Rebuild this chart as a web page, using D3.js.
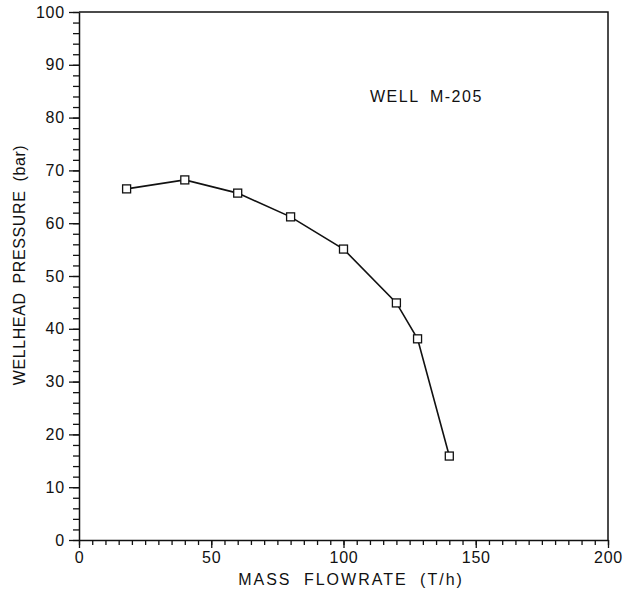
<!DOCTYPE html>
<html>
<head>
<meta charset="utf-8">
<script src="https://cdn.jsdelivr.net/npm/d3@7"></script>
<style>
  body { margin: 0; background: #fff; }
  text { font-family: "Liberation Sans", Arial, sans-serif; fill: #111; }
</style>
</head>
<body>
<div id="visContainer"></div>
<script>
'use strict';

// data
var flowrate = [18, 40, 60, 80, 100, 120, 128, 140];   // T/h
var pressure = [66.5, 68.2, 65.7, 61.2, 55.1, 44.9, 38.1, 15.9]; // bar
var xTicks = [0, 50, 100, 150, 200];
var yTicks = [0, 10, 20, 30, 40, 50, 60, 70, 80, 90, 100];

var width = 623, height = 592;
var margin = {left: 79, right: 15, top: 12, bottom: 52};

var svg = d3.select('#visContainer')
    .append('svg')
    .attr('width', width)
    .attr('height', height);

var x = d3.scaleLinear().domain([0, 200]).range([margin.left, width - margin.right]);
var y = d3.scaleLinear().domain([0, 100]).range([height - margin.bottom, margin.top]);

// frame: top and right edges
svg.append('path')
    .attr('d', 'M' + x(0) + ',' + y(100) + 'H' + x(200) + 'V' + y(0))
    .attr('fill', 'none')
    .attr('stroke', '#111')
    .attr('stroke-width', 1.5);

// x axis - minor ticks every 5, major every 50
var xMinor = d3.axisBottom(x).tickValues(d3.range(0, 201, 5)).tickSize(5).tickFormat('');
svg.append('g')
    .attr('transform', 'translate(0,' + y(0) + ')')
    .call(xMinor)
    .call(function(g) { g.select('.domain').remove(); });

var xAxis = d3.axisBottom(x).tickValues(xTicks).tickSize(8).tickPadding(4).tickSizeOuter(0);
var gx = svg.append('g')
    .attr('transform', 'translate(0,' + y(0) + ')')
    .call(xAxis);
gx.selectAll('text').style('font-size', '16px').attr('letter-spacing', '0.8px');

// y axis - minor every 2, major every 10
var yMinor = d3.axisLeft(y).tickValues(d3.range(0, 101, 2)).tickSize(6).tickFormat('');
svg.append('g')
    .attr('transform', 'translate(' + x(0) + ',0)')
    .call(yMinor)
    .call(function(g) { g.select('.domain').remove(); });

var yAxis = d3.axisLeft(y).tickValues(yTicks).tickSize(10).tickPadding(4).tickSizeOuter(0);
var gy = svg.append('g')
    .attr('transform', 'translate(' + x(0) + ',0)')
    .call(yAxis);
gy.selectAll('text').style('font-size', '16px').attr('letter-spacing', '0.8px');

svg.selectAll('.domain').attr('stroke-width', 1.5).attr('stroke', '#111');
svg.selectAll('.tick line').attr('stroke-width', 1.3).attr('stroke', '#111');

// curve
var line = d3.line()
    .x(function(d, i) { return x(flowrate[i]); })
    .y(function(d) { return y(d); });

svg.append('path')
    .datum(pressure)
    .attr('d', line)
    .attr('fill', 'none')
    .attr('stroke', '#111')
    .attr('stroke-width', 1.6);

// square markers
var s = 8;
svg.selectAll('rect.pt')
    .data(pressure)
    .enter()
    .append('rect')
    .attr('class', 'pt')
    .attr('x', function(d, i) { return x(flowrate[i]) - s / 2; })
    .attr('y', function(d) { return y(d) - s / 2; })
    .attr('width', s)
    .attr('height', s)
    .attr('fill', '#fff')
    .attr('stroke', '#111')
    .attr('stroke-width', 1.3);

// axis titles
svg.append('text')
    .attr('x', 351)
    .attr('y', 585)
    .attr('text-anchor', 'middle')
    .attr('letter-spacing', '2px')
    .attr('word-spacing', '6px')
    .style('font-size', '16px')
    .text('MASS FLOWRATE (T/h)');

svg.append('text')
    .attr('transform', 'translate(25,265) rotate(-90)')
    .attr('text-anchor', 'middle')
    .attr('letter-spacing', '0.6px')
    .attr('word-spacing', '4px')
    .style('font-size', '16px')
    .text('WELLHEAD PRESSURE (bar)');

// annotation
svg.append('text')
    .attr('x', 370)
    .attr('y', 102)
    .attr('letter-spacing', '1.5px')
    .attr('word-spacing', '5px')
    .style('font-size', '16px')
    .text('WELL M-205');
</script>
</body>
</html>
